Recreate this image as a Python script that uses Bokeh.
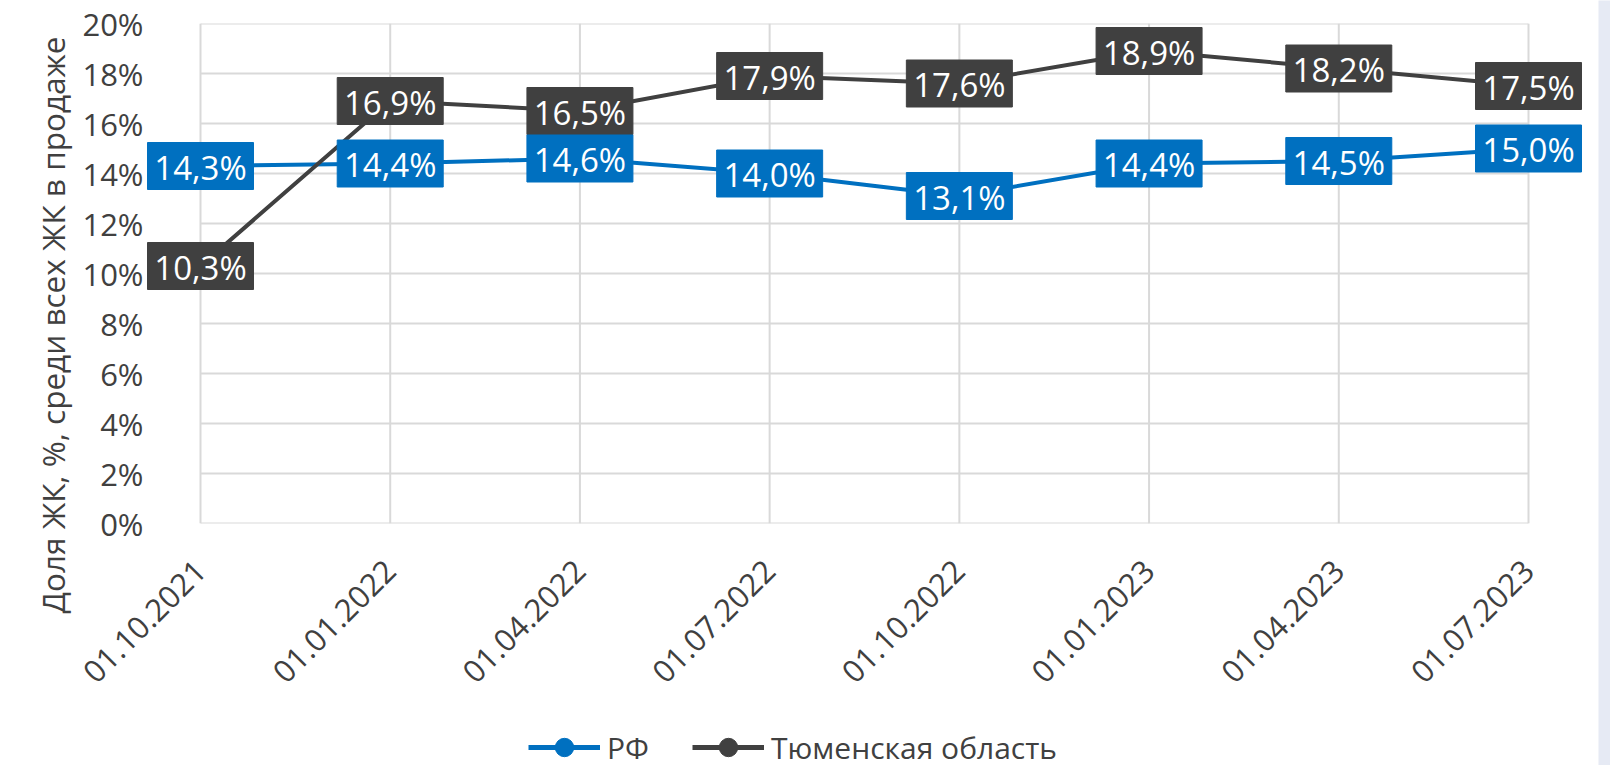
import math
from bokeh.plotting import figure
from bokeh.layouts import row, column
from bokeh.models import (Range1d, FixedTicker, PrintfTickFormatter, ColumnDataSource,
                          Legend, LegendItem, Title)
from bokeh.core.properties import value
from bokeh.embed import file_html
from bokeh.resources import INLINE

# ---- data ----
dates = ["01.10.2021", "01.01.2022", "01.04.2022", "01.07.2022",
         "01.10.2022", "01.01.2023", "01.04.2023", "01.07.2023"]
rf_values = [14.3, 14.4, 14.6, 14.0, 13.1, 14.4, 14.5, 15.0]
tyumen_values = [10.3, 16.9, 16.5, 17.9, 17.6, 18.9, 18.2, 17.5]
y_ticks = [0, 2, 4, 6, 8, 10, 12, 14, 16, 18, 20]
series_names = ["РФ", "Тюменская область"]
y_title = "Доля ЖК, %, среди всех ЖК в продаже"

BLUE = "#0070C0"
DARK = "#404040"
GRID = "#d9d9d9"
TXT = "#404040"
FONT = "Open Sans"

xs = list(range(len(dates)))


def fmt(v):
    return f"{v:.1f}".replace(".", ",") + "%"


# layout (pixels): grid area spans x 200..1528, y 23..523; frame a bit wider
MAIN_W, MAIN_H, LEG_H = 1598, 690, 75
FRAME_L, FRAME_R = 146, 1590
GRID_L, GRID_R = 200, 1528
ppu = (GRID_R - GRID_L) / (len(dates) - 1)
x_start = xs[0] - (GRID_L - FRAME_L) / ppu
x_end = xs[-1] + (FRAME_R - GRID_R) / ppu

fig = figure(frame_width=FRAME_R - FRAME_L, frame_height=500,
             min_border_left=FRAME_L, min_border_right=MAIN_W - FRAME_R,
             min_border_top=23, min_border_bottom=MAIN_H - 523,
             x_range=Range1d(x_start, x_end), y_range=Range1d(y_ticks[0], y_ticks[-1]),
             output_backend="svg", toolbar_location=None,
             background_fill_color="white", border_fill_color="white")
fig.outline_line_color = None
fig.grid.visible = False

# grid lines limited to the category span
fig.segment(x0=[xs[0]] * len(y_ticks), x1=[xs[-1]] * len(y_ticks), y0=y_ticks, y1=y_ticks,
            line_color=GRID, line_width=2)
fig.segment(x0=xs, x1=xs, y0=[y_ticks[0]] * len(xs), y1=[y_ticks[-1]] * len(xs),
            line_color=GRID, line_width=2)

# axes
fig.xaxis.ticker = FixedTicker(ticks=xs)
fig.xaxis.major_label_overrides = {i: d for i, d in enumerate(dates)}
fig.xaxis.major_label_orientation = math.pi / 4
fig.xaxis.major_label_standoff = 42
fig.xaxis.axis_line_color = None
fig.yaxis.ticker = FixedTicker(ticks=y_ticks)
fig.yaxis.formatter = PrintfTickFormatter(format="%d%%")
fig.yaxis.major_label_standoff = 3
fig.yaxis.axis_line_color = None
for ax in (fig.xaxis, fig.yaxis):
    ax.major_tick_line_color = None
    ax.minor_tick_line_color = None
    ax.major_tick_out = 0
    ax.major_tick_in = 0
    ax.major_label_text_font = FONT
    ax.major_label_text_font_size = "31px"
    ax.major_label_text_color = TXT

# y title on the left (starts lower than the frame bottom, like the original)
fig.add_layout(Title(text=y_title, align="left", offset=-90,
                     text_font=FONT, text_font_size="31.5px", text_color=TXT,
                     text_font_style="normal", standoff=12), "left")

# series
src_rf = ColumnDataSource(dict(x=xs, y=rf_values, t=[fmt(v) for v in rf_values]))
src_ty = ColumnDataSource(dict(x=xs, y=tyumen_values, t=[fmt(v) for v in tyumen_values]))

styles = [(src_rf, BLUE), (src_ty, DARK)]
for src, col in styles:
    fig.line("x", "y", source=src, line_color=col, line_width=4)
    fig.scatter("x", "y", source=src, size=20, fill_color=col, line_color=col)

for src, col in ((src_ty, DARK), (src_rf, BLUE)):
    fig.rect("x", "y", source=src, width=106, height=47,
             width_units="screen", height_units="screen",
             fill_color=col, line_color=col)
    fig.text("x", "y", text="t", source=src, text_align="center", text_baseline="middle",
             text_font=value(FONT), text_font_size="33px", text_color="white",
             y_offset=1)

# legend strip below the chart (its frame is aligned with the main frame)
legfig = figure(width=MAIN_W, height=LEG_H, min_border=0,
                x_range=Range1d(0, 1), y_range=Range1d(0, 1),
                output_backend="svg", toolbar_location=None,
                background_fill_color="white", border_fill_color="white")
legfig.axis.visible = False
legfig.grid.visible = False
legfig.outline_line_color = None
items = []
for name, (src, col) in zip(series_names, styles):
    # legend-only renderers: same styles, nothing drawn in the strip itself
    dummy = ColumnDataSource(dict(x=[float("nan")], y=[float("nan")]))
    lr = legfig.line("x", "y", source=dummy, line_color=col, line_width=5)
    sr = legfig.scatter("x", "y", source=dummy, size=20, fill_color=col, line_color=col)
    items.append(LegendItem(label=name, renderers=[lr, sr]))
legend = Legend(items=items, orientation="horizontal", location=(528 - FRAME_L, 0),
                glyph_width=72, glyph_height=46, label_standoff=7, spacing=43,
                padding=0, margin=0, border_line_color=None,
                background_fill_alpha=0,
                label_text_font=FONT, label_text_font_size="30px",
                label_text_color=TXT)
legfig.add_layout(legend)

# thin light band at the right edge of the page
band = figure(width=12, height=MAIN_H + LEG_H, output_backend="svg", toolbar_location=None,
              min_border=0, background_fill_color="#e6eaf4", border_fill_color="#e6eaf4")
band.axis.visible = False
band.grid.visible = False
band.outline_line_color = None

p = row(column(fig, legfig, spacing=0), band, spacing=0)
open("out.html", "w").write(file_html(p, INLINE))
